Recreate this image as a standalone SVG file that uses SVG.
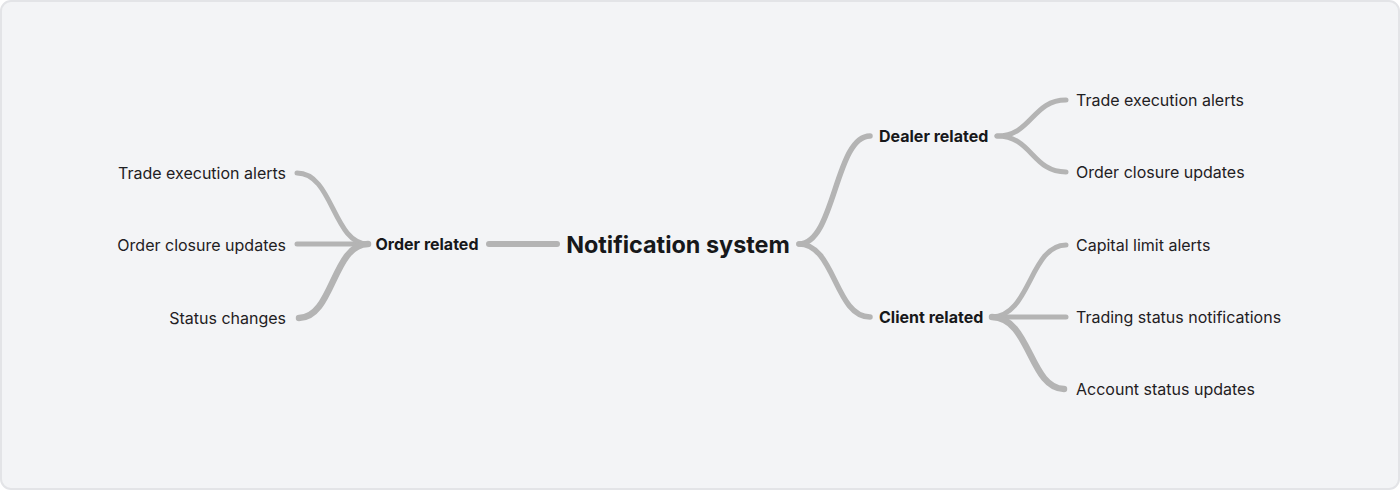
<svg xmlns="http://www.w3.org/2000/svg" width="1400" height="490" viewBox="0 0 1400 490">
<style>
.bg{fill:#f3f4f6;stroke:#e3e4e7;stroke-width:2}
.e{fill:none;stroke:#b4b4b4;stroke-linecap:round}
.t{font-family:Inter,"Liberation Sans",sans-serif;font-size:16px;fill:#1f2023}
.b{font-weight:700;fill:#17181a}
.root{font-family:Inter,"Liberation Sans",sans-serif;font-size:23.4px;font-weight:700;fill:#17181a}
</style>
<rect class="bg" x="1" y="1" width="1398" height="488" rx="10"/>
<g id="connectors">
<path class="e" stroke-width="6" d="M489,244 L557,244"/>
<path class="e" stroke-width="5" d="M368,244 C333,244 333,173 297,173"/>
<path class="e" stroke-width="5" d="M368,244 L297,244"/>
<path class="e" stroke-width="6.5" d="M368,244 C333,244 333,318 299,318"/>
<path class="e" stroke-width="5.5" d="M799,244 C835,244 835,136 870,136"/>
<path class="e" stroke-width="5.5" d="M799,244 C835,244 835,317 870,317"/>
<path class="e" stroke-width="5" d="M997,136 C1032,136 1032,100 1066,100"/>
<path class="e" stroke-width="5" d="M997,136 C1032,136 1032,172 1066,172"/>
<path class="e" stroke-width="5" d="M992,317 C1030,317 1030,245 1066,245"/>
<path class="e" stroke-width="5" d="M992,317 L1066,317"/>
<path class="e" stroke-width="6.5" d="M992,317 C1030,317 1030,389 1064,389"/>
</g>
<g id="root"><text class="root" x="678" y="252.5" text-anchor="middle">Notification system</text></g>
<g id="order"><text class="t b" x="427" y="250" text-anchor="middle">Order related</text></g>
<g id="order-1"><text class="t" x="286" y="178.5" text-anchor="end">Trade execution alerts</text></g>
<g id="order-2"><text class="t" x="286" y="250.5" text-anchor="end">Order closure updates</text></g>
<g id="order-3"><text class="t" x="286" y="323.5" text-anchor="end">Status changes</text></g>
<g id="dealer"><text class="t b" x="879" y="142">Dealer related</text></g>
<g id="dealer-1"><text class="t" x="1076" y="106">Trade execution alerts</text></g>
<g id="dealer-2"><text class="t" x="1076" y="178">Order closure updates</text></g>
<g id="client"><text class="t b" x="879" y="323">Client related</text></g>
<g id="client-1"><text class="t" x="1076" y="251">Capital limit alerts</text></g>
<g id="client-2"><text class="t" x="1076" y="323">Trading status notifications</text></g>
<g id="client-3"><text class="t" x="1076" y="395">Account status updates</text></g>
</svg>
